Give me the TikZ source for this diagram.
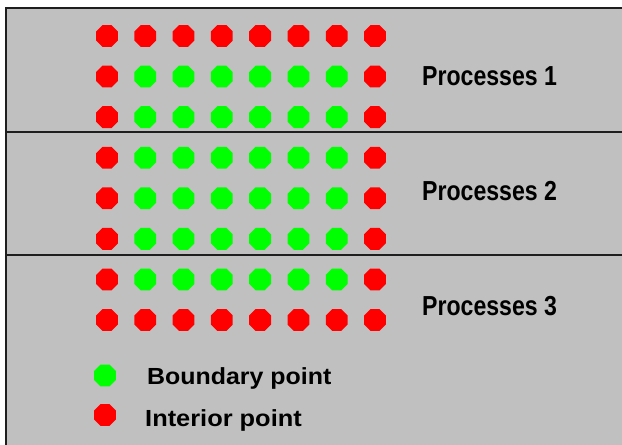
\documentclass[tikz,border=0pt]{standalone}
\usepackage{fontspec}
\setmainfont{Liberation Sans}
\usetikzlibrary{shapes.geometric}
\definecolor{ptred}{RGB}{255,0,0}
\definecolor{ptgreen}{RGB}{0,255,0}
\definecolor{panelgray}{RGB}{192,192,192}
\definecolor{frameline}{RGB}{30,30,30}
\begin{document}
\begin{tikzpicture}[x=1pt,y=-1pt,
  dot/.style={regular polygon, regular polygon sides=8, minimum size=23.6pt, inner sep=0pt, draw=none},
  reddot/.style={dot, fill=ptred},
  greendot/.style={dot, fill=ptgreen},
  proclabel/.style={anchor=base west, inner sep=0pt, font=\fontsize{27.5}{30}\selectfont\bfseries},
  legendlabel/.style={anchor=base west, inner sep=0pt, font=\fontsize{23.3}{26}\selectfont\bfseries},
  border/.style={line width=2pt, draw=frameline},
  divider/.style={line width=1.8pt, draw=frameline}
]
\useasboundingbox (0,0) rectangle (622,445);
\clip (0,0) rectangle (622,445);
\fill[white] (0,0) rectangle (622,445);
\fill[panelgray] (6,8) rectangle (640,460);
\draw[border] (6,460) -- (6,8) -- (640,8);
\draw[divider] (6,131.7) -- (640,131.7);
\draw[divider] (6,255) -- (640,255);
% dots
\foreach \r in {0,...,7}{
  \foreach \c in {0,...,7}{
    \pgfmathsetmacro{\xx}{107+38.28*\c}
    \pgfmathsetmacro{\yy}{36+40.57*\r}
    \ifnum\r=0 \def\dstyle{reddot}\else
    \ifnum\r=7 \def\dstyle{reddot}\else
    \ifnum\c=0 \def\dstyle{reddot}\else
    \ifnum\c=7 \def\dstyle{reddot}\else
    \def\dstyle{greendot}\fi\fi\fi\fi
    \node[\dstyle] (d-\r-\c) at (\xx,\yy) {};
  }
}
% labels
\node[proclabel] (p1) at (422,85.7) {\scalebox{0.84}[1]{Processes 1}};
\node[proclabel] (p2) at (422,200) {\scalebox{0.84}[1]{Processes 2}};
\node[proclabel] (p3) at (422,315.7) {\scalebox{0.84}[1]{Processes 3}};
% legend
\node[greendot] (lg) at (105,375.5) {};
\node[reddot] (lr) at (105,415) {};
\node[legendlabel] (lgt) at (147,384.3) {\scalebox{1.07}[1]{Boundary point}};
\node[legendlabel] (lrt) at (145,426.7) {\scalebox{1.09}[1]{Interior point}};
\end{tikzpicture}
\end{document}
